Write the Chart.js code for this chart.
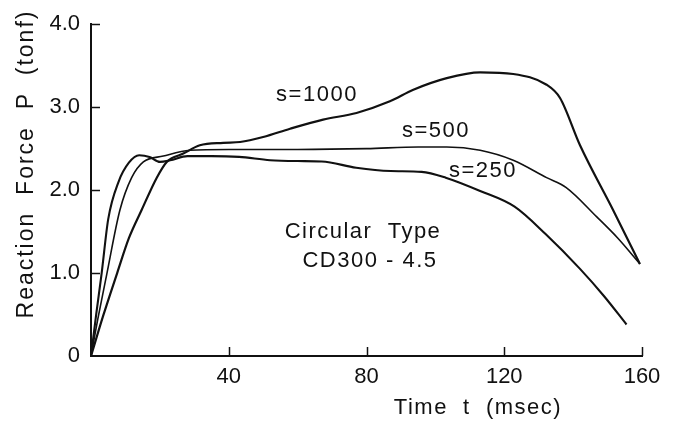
<!DOCTYPE html>
<html>
<head>
<meta charset="utf-8">
<script src="https://cdn.jsdelivr.net/npm/chart.js@4/dist/chart.umd.min.js"></script>
<style>
  html, body { margin: 0; padding: 0; background: #fff; }
  #wrap { width: 678px; height: 430px; position: relative; }
</style>
</head>
<body>
<div id="wrap"><canvas id="c" width="678" height="430"></canvas></div>
<script>
// ---- data ----
const t250  = [0, 1.5, 3.1, 5, 8, 11, 14, 17, 20, 23, 28, 35, 43, 52, 60, 67, 77, 87, 96, 103, 113, 123, 132, 142, 149, 155.5];
const p250  = [0, 0.5, 1.0, 1.65, 2.1, 2.33, 2.42, 2.40, 2.34, 2.36, 2.41, 2.41, 2.40, 2.36, 2.35, 2.345, 2.27, 2.23, 2.22, 2.15, 1.99, 1.80, 1.47, 1.05, 0.72, 0.38];
const t500  = [0, 2, 4.5, 8.4, 11.8, 15.2, 21, 28.7, 40, 60, 80, 95, 103.3, 113, 122.6, 132.3, 138, 146.8, 153, 159.4];
const p500  = [0, 0.45, 0.97, 1.76, 2.15, 2.34, 2.41, 2.48, 2.49, 2.49, 2.50, 2.52, 2.52, 2.48, 2.36, 2.15, 2.03, 1.68, 1.42, 1.11];
const t1000 = [0, 3.5, 7.6, 11, 14.7, 19.1, 22, 26.8, 31.6, 38.4, 43.3, 50, 57.8, 67.4, 77.1, 86.8, 93.6, 103.3, 113, 122.6, 132.3, 136.2, 142, 151.6, 159.4];
const p1000 = [0, 0.48, 1.0, 1.42, 1.76, 2.15, 2.34, 2.44, 2.54, 2.57, 2.58, 2.64, 2.74, 2.85, 2.93, 3.07, 3.21, 3.35, 3.42, 3.40, 3.27, 3.11, 2.54, 1.76, 1.11];
const xTicks = [40, 80, 120, 160];
const yTicks = [0, 1, 2, 3, 4];
const seriesLabels = ["s=250", "s=500", "s=1000"];
const xTitle = "Time  t  (msec)";
const yTitle = "Reaction  Force  P  (tonf)";
const noteLines = ["Circular  Type", "CD300 - 4.5"];

const pts = (ts, ps) => ts.map((t, i) => ({ x: t, y: ps[i] }));
const FONT = "'Liberation Sans', Arial, sans-serif";

const overlay = {
  id: 'overlay',
  afterDraw(chart) {
    const { ctx, scales: { x, y } } = chart;
    ctx.save();
    ctx.strokeStyle = '#111';
    ctx.lineWidth = 1.5;
    // inward ticks
    xTicks.forEach(v => {
      const px = Math.round(x.getPixelForValue(v)) + 0.5;
      ctx.beginPath(); ctx.moveTo(px, y.bottom); ctx.lineTo(px, y.bottom - 9); ctx.stroke();
    });
    yTicks.filter(v => v > 0).forEach(v => {
      const py = Math.round(y.getPixelForValue(v)) + 0.5;
      ctx.beginPath(); ctx.moveTo(x.left, py); ctx.lineTo(x.left + 9, py); ctx.stroke();
    });
    ctx.fillStyle = '#111';
    ctx.textAlign = 'center';
    ctx.textBaseline = 'middle';
    ctx.font = '22px ' + FONT;
    if ('letterSpacing' in ctx) ctx.letterSpacing = '1.5px';
    // axis titles
    ctx.fillText(xTitle, 478, 408);
    ctx.save();
    ctx.translate(27, 164);
    ctx.rotate(-Math.PI / 2);
    ctx.font = '23px ' + FONT;
    if ('letterSpacing' in ctx) ctx.letterSpacing = '2px';
    ctx.fillText(yTitle, 0, 0);
    ctx.restore();
    // series labels
    ctx.fillText(seriesLabels[2], 317, 95);
    ctx.fillText(seriesLabels[1], 436, 131);
    ctx.fillText(seriesLabels[0], 483, 171);
    // note
    ctx.fillText(noteLines[0], 363, 232);
    ctx.fillText(noteLines[1], 370, 261);
    ctx.restore();
  }
};

new Chart(document.getElementById('c'), {
  type: 'scatter',
  data: {
    datasets: [
      { label: seriesLabels[0], data: pts(t250, p250), borderWidth: 2.1 },
      { label: seriesLabels[1], data: pts(t500, p500), borderWidth: 1.6 },
      { label: seriesLabels[2], data: pts(t1000, p1000), borderWidth: 2.2 }
    ].map(d => Object.assign(d, {
      showLine: true, pointRadius: 0, borderColor: '#111', backgroundColor: '#111',
      cubicInterpolationMode: 'monotone', fill: false
    }))
  },
  options: {
    responsive: false,
    animation: false,
    devicePixelRatio: 1,
    layout: { padding: { left: 0, top: 16, right: 36, bottom: 0 } },
    plugins: { legend: { display: false }, tooltip: { enabled: false } },
    scales: {
      x: {
        type: 'linear', min: 0, max: 160,
        afterBuildTicks: s => { s.ticks = [0].concat(xTicks).map(v => ({ value: v })); },
        afterFit: s => { s.height = 74; },
        grid: { display: false, drawTicks: false },
        border: { display: true, color: '#111', width: 2 },
        ticks: {
          padding: 8, color: '#111', font: { family: FONT, size: 22 },
          maxRotation: 0,
          callback: v => (v === 0 ? '' : String(v))
        }
      },
      y: {
        type: 'linear', min: 0, max: 4,
        afterBuildTicks: s => { s.ticks = yTicks.map(v => ({ value: v })); },
        afterFit: s => { s.width = 91; },
        grid: { display: false, drawTicks: false },
        border: { display: true, color: '#111', width: 2 },
        ticks: {
          padding: 11, color: '#111', font: { family: FONT, size: 22 },
          callback: v => (v === 0 ? '0' : v.toFixed(1))
        }
      }
    }
  },
  plugins: [overlay]
});
</script>
</body>
</html>
